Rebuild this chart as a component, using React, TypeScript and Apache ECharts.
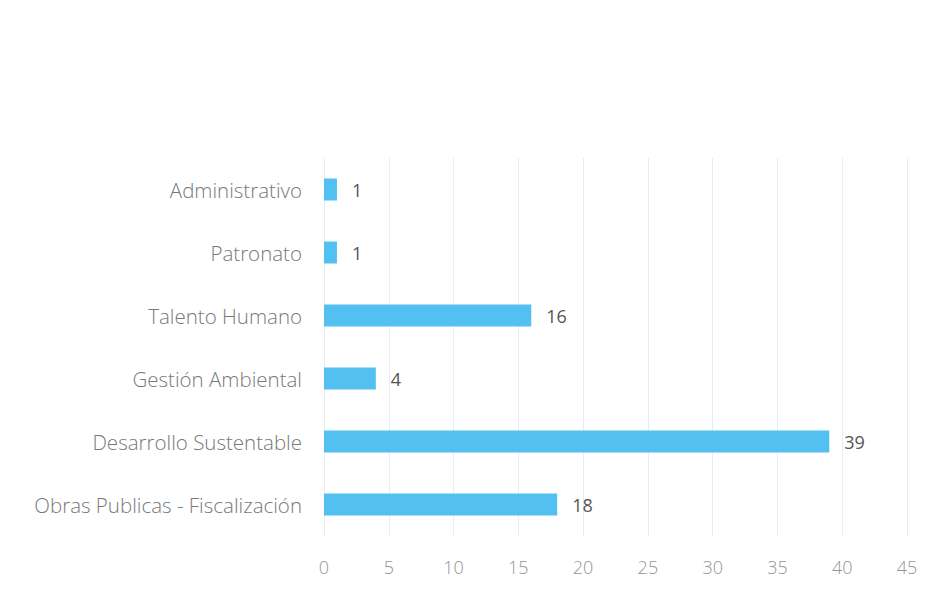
import React, { useEffect, useRef } from "react";
import * as echarts from "echarts";

const categories = [
  "Obras Publicas - Fiscalización",
  "Desarrollo Sustentable",
  "Gestión Ambiental",
  "Talento Humano",
  "Patronato",
  "Administrativo",
];
const values = [18, 39, 4, 16, 1, 1];
const xTicks = { min: 0, max: 45, interval: 5 };

export default function App() {
  const ref = useRef<HTMLDivElement>(null);
  useEffect(() => {
    if (!ref.current) return;
    const chart = echarts.init(ref.current, null, { renderer: "svg" });
    chart.setOption({
      animation: false,
      backgroundColor: "#ffffff",
      grid: { left: 324, right: 45, top: 158, bottom: 62, containLabel: false },
      xAxis: {
        type: "value",
        min: xTicks.min,
        max: xTicks.max,
        interval: xTicks.interval,
        axisLine: { show: false },
        axisTick: { show: false },
        axisLabel: { color: "#959595", fontSize: 18, fontWeight: 300, fontFamily: "Open Sans", margin: 22 },
        splitLine: { show: true, lineStyle: { color: "#e8edf3", width: 1 } },
      },
      yAxis: {
        type: "category",
        data: categories,
        axisLine: { show: false },
        axisTick: { show: false },
        axisLabel: { color: "#787878", fontSize: 20.5, fontWeight: 300, fontFamily: "Open Sans", margin: 22 },
      },
      series: [
        {
          type: "bar",
          data: values,
          barWidth: 22,
          itemStyle: { color: "#52c0f0" },
          label: {
            show: true,
            position: "right",
            distance: 15,
            color: "#555555",
            fontSize: 18,
            fontFamily: "Open Sans",
          },
        },
      ],
    });
    return () => chart.dispose();
  }, []);
  return <div ref={ref} style={{ width: 952, height: 598, position: "absolute", left: 0, top: 0 }} />;
}
